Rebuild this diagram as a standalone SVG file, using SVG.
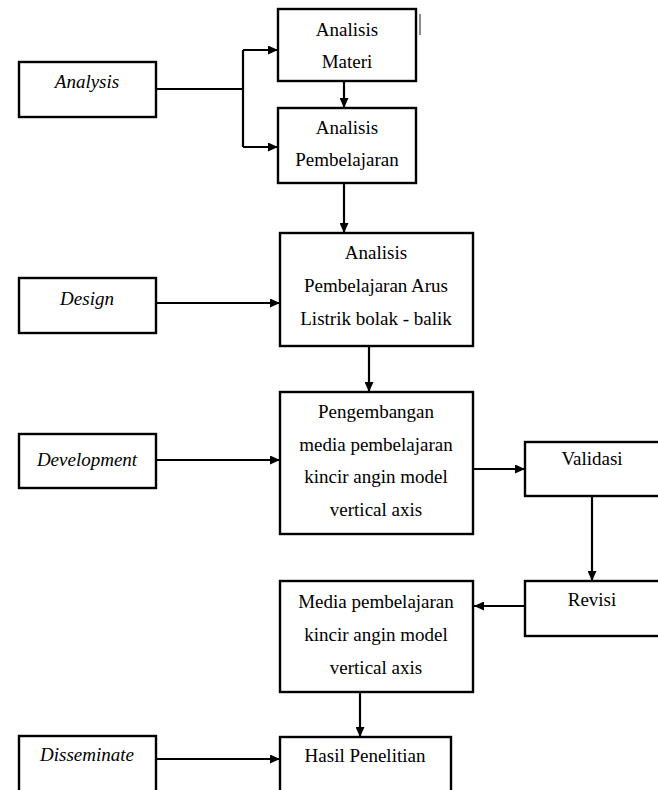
<svg xmlns="http://www.w3.org/2000/svg" width="658" height="790" viewBox="0 0 658 790">
<style>
.box{fill:#fff;stroke:#000;stroke-width:2.4}
.t{font-family:"Liberation Serif","Times New Roman",serif;font-size:19px;fill:#000;text-anchor:middle}
.i{font-style:italic}
.c{fill:none;stroke:#000;stroke-width:2.2}
</style>
<defs>
<marker id="ah" markerUnits="userSpaceOnUse" markerWidth="10" markerHeight="9" refX="10" refY="4.5" orient="auto">
<path d="M0,0 L10,4.5 L0,9 Z" fill="#000"/>
</marker>
</defs>
<rect width="658" height="790" fill="#fff"/>
<g id="connectors">
<path class="c" d="M156,89 H243 M243,50 V147"/>
<path class="c" d="M243,50 H278" marker-end="url(#ah)"/>
<path class="c" d="M243,147 H278" marker-end="url(#ah)"/>
<path class="c" d="M344,81 V108" marker-end="url(#ah)"/>
<path class="c" d="M344,183 V233" marker-end="url(#ah)"/>
<path class="c" d="M156,303 H280" marker-end="url(#ah)"/>
<path class="c" d="M369,346 V392" marker-end="url(#ah)"/>
<path class="c" d="M156,460 H280" marker-end="url(#ah)"/>
<path class="c" d="M473,469 H525" marker-end="url(#ah)"/>
<path class="c" d="M592,496 V581" marker-end="url(#ah)"/>
<path class="c" d="M525,606 H474" marker-end="url(#ah)"/>
<path class="c" d="M360,692 V737" marker-end="url(#ah)"/>
<path class="c" d="M156,759 H280" marker-end="url(#ah)"/>
</g>
<g id="analysis"><rect class="box" x="19" y="62" width="137" height="55"/><text class="t i" x="87" y="88">Analysis</text></g>
<g id="analisis-materi"><rect class="box" x="278" y="9" width="138" height="72"/><text class="t" x="347" y="36">Analisis</text><text class="t" x="347" y="68">Materi</text></g>
<line x1="420" y1="14" x2="420" y2="35" stroke="#666" stroke-width="1.5"/>
<g id="analisis-pembelajaran"><rect class="box" x="278" y="108" width="138" height="75"/><text class="t" x="347" y="134">Analisis</text><text class="t" x="347" y="166">Pembelajaran</text></g>
<g id="design"><rect class="box" x="19" y="278" width="137" height="55"/><text class="t i" x="87" y="305">Design</text></g>
<g id="analisis-arus"><rect class="box" x="280" y="233" width="193" height="113"/><text class="t" x="376" y="259">Analisis</text><text class="t" x="376" y="292">Pembelajaran Arus</text><text class="t" x="376" y="325">Listrik bolak - balik</text></g>
<g id="development"><rect class="box" x="19" y="434" width="137" height="54"/><text class="t i" x="87" y="466">Development</text></g>
<g id="pengembangan"><rect class="box" x="280" y="392" width="193" height="142"/><text class="t" x="376" y="418">Pengembangan</text><text class="t" x="376" y="451">media pembelajaran</text><text class="t" x="376" y="483">kincir angin model</text><text class="t" x="376" y="516">vertical axis</text></g>
<g id="validasi"><rect class="box" x="525" y="442" width="150" height="54"/><text class="t" x="592" y="465">Validasi</text></g>
<g id="revisi"><rect class="box" x="525" y="581" width="150" height="55"/><text class="t" x="592" y="606">Revisi</text></g>
<g id="media"><rect class="box" x="280" y="581" width="193" height="111"/><text class="t" x="376" y="608">Media pembelajaran</text><text class="t" x="376" y="641">kincir angin model</text><text class="t" x="376" y="674">vertical axis</text></g>
<g id="disseminate"><rect class="box" x="19" y="736" width="137" height="70"/><text class="t i" x="87" y="761">Disseminate</text></g>
<g id="hasil"><rect class="box" x="280" y="737" width="171" height="70"/><text class="t" x="365" y="762">Hasil Penelitian</text></g>
</svg>
